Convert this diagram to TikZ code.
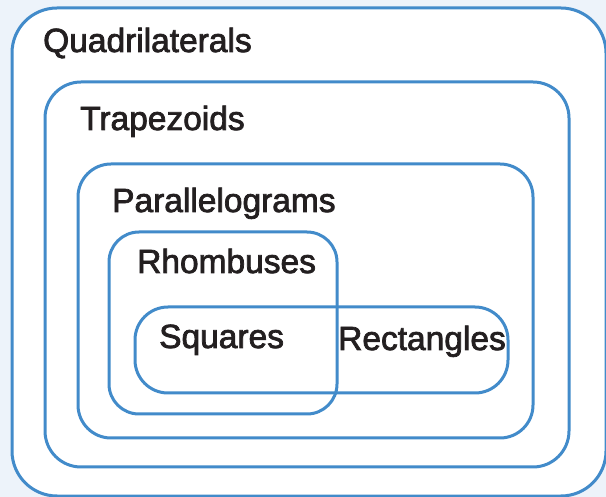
\documentclass[tikz,border=0pt]{standalone}
\usepackage{fontspec}
\newfontfamily\labelfont{Liberation Sans}[FakeBold=2.2]
\definecolor{setblue}{RGB}{66,139,202}
\definecolor{pagebg}{RGB}{237,243,250}
\definecolor{labelink}{RGB}{35,31,32}
\begin{document}
\begin{tikzpicture}[x=1pt,y=-1pt,
  setbox/.style={draw=setblue,line width=3pt},
  setlabel/.style={anchor=base west,inner sep=0pt,text=labelink,
    font=\labelfont\fontsize{33.5}{40}\selectfont}]
\useasboundingbox (0,0) rectangle (606,497);
\clip (0,0) rectangle (606,497);
\fill[pagebg] (0,0) rectangle (606,497);

% nested sets of quadrilaterals
\draw[setbox,fill=white,rounded corners=45pt] (12,8) rectangle (606,496);
\draw[setbox,rounded corners=36pt] (45,82) rectangle (569,467);
\draw[setbox,rounded corners=33pt] (78,164) rectangle (533,438);
\draw[setbox,rounded corners=30pt] (109,232) rectangle (337,414);
\draw[setbox,rounded corners=33pt] (135,307) rectangle (508,393);

% set names
\node[setlabel] (quad)  at (43,52)   {Quadrilaterals};
\node[setlabel] (trap)  at (80,130)  {Trapezoids};
\node[setlabel] (para)  at (112,212) {Parallelograms};
\node[setlabel] (rhomb) at (137,273) {Rhombuses};
\node[setlabel] (sq)    at (159,348) {Squares};
\node[setlabel] (rect)  at (338,350) {Rectangles};
\end{tikzpicture}
\end{document}
